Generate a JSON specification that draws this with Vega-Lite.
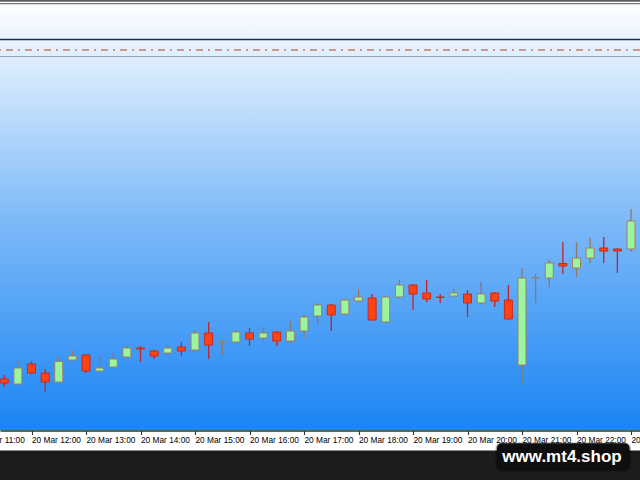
{
  "$schema": "https://vega.github.io/schema/vega-lite/v6.json",
  "width": 640,
  "height": 480,
  "padding": 0,
  "autosize": {"type": "none"},
  "background": "#ffffff",
  "config": {"view": {"stroke": null}},
  "datasets": {
    "one": [{}],
    "candles": [
      {"t": "2024-03-20T11:30:00Z", "open": 101, "high": 105, "low": 93, "close": 97},
      {"t": "2024-03-20T11:45:00Z", "open": 96, "high": 120, "low": 96, "close": 112},
      {"t": "2024-03-20T12:00:00Z", "open": 116, "high": 118.5, "low": 106, "close": 107},
      {"t": "2024-03-20T12:15:00Z", "open": 107, "high": 111, "low": 88.5, "close": 98},
      {"t": "2024-03-20T12:30:00Z", "open": 98, "high": 123, "low": 98, "close": 118.5},
      {"t": "2024-03-20T12:45:00Z", "open": 120, "high": 130, "low": 120, "close": 124},
      {"t": "2024-03-20T13:00:00Z", "open": 125, "high": 126, "low": 107, "close": 109},
      {"t": "2024-03-20T13:15:00Z", "open": 109, "high": 125, "low": 108.5, "close": 112},
      {"t": "2024-03-20T13:30:00Z", "open": 113, "high": 128, "low": 113, "close": 121},
      {"t": "2024-03-20T13:45:00Z", "open": 123, "high": 134, "low": 122, "close": 132},
      {"t": "2024-03-20T14:00:00Z", "open": 132, "high": 134, "low": 118, "close": 131},
      {"t": "2024-03-20T14:15:00Z", "open": 129, "high": 130, "low": 121, "close": 124},
      {"t": "2024-03-20T14:30:00Z", "open": 127, "high": 135, "low": 124, "close": 132},
      {"t": "2024-03-20T14:45:00Z", "open": 133, "high": 138, "low": 124, "close": 129},
      {"t": "2024-03-20T15:00:00Z", "open": 130, "high": 150, "low": 129, "close": 147},
      {"t": "2024-03-20T15:15:00Z", "open": 147, "high": 158, "low": 121, "close": 135},
      {"t": "2024-03-20T15:30:00Z", "open": 137.5, "high": 140, "low": 125, "close": 138},
      {"t": "2024-03-20T15:45:00Z", "open": 138, "high": 150, "low": 137.5, "close": 148},
      {"t": "2024-03-20T16:00:00Z", "open": 147, "high": 152, "low": 134, "close": 141},
      {"t": "2024-03-20T16:15:00Z", "open": 142, "high": 153, "low": 139, "close": 147},
      {"t": "2024-03-20T16:30:00Z", "open": 148, "high": 149, "low": 134, "close": 139},
      {"t": "2024-03-20T16:45:00Z", "open": 139, "high": 159, "low": 137, "close": 149},
      {"t": "2024-03-20T17:00:00Z", "open": 149, "high": 165, "low": 142, "close": 163},
      {"t": "2024-03-20T17:15:00Z", "open": 164, "high": 177, "low": 155, "close": 175},
      {"t": "2024-03-20T17:30:00Z", "open": 175, "high": 176, "low": 149, "close": 165},
      {"t": "2024-03-20T17:45:00Z", "open": 166, "high": 181, "low": 165, "close": 180},
      {"t": "2024-03-20T18:00:00Z", "open": 179, "high": 191, "low": 178, "close": 183},
      {"t": "2024-03-20T18:15:00Z", "open": 182, "high": 186, "low": 159.5, "close": 160},
      {"t": "2024-03-20T18:30:00Z", "open": 158, "high": 184, "low": 157, "close": 183},
      {"t": "2024-03-20T18:45:00Z", "open": 183, "high": 200, "low": 182, "close": 195},
      {"t": "2024-03-20T19:00:00Z", "open": 195, "high": 196, "low": 170, "close": 186},
      {"t": "2024-03-20T19:15:00Z", "open": 187, "high": 200, "low": 178, "close": 181},
      {"t": "2024-03-20T19:30:00Z", "open": 183, "high": 186, "low": 177, "close": 182.5},
      {"t": "2024-03-20T19:45:00Z", "open": 184, "high": 191, "low": 183.5, "close": 187},
      {"t": "2024-03-20T20:00:00Z", "open": 186, "high": 190, "low": 163, "close": 177},
      {"t": "2024-03-20T20:15:00Z", "open": 177, "high": 198, "low": 176, "close": 186},
      {"t": "2024-03-20T20:30:00Z", "open": 187, "high": 188, "low": 173, "close": 179},
      {"t": "2024-03-20T20:45:00Z", "open": 180, "high": 195, "low": 160.5, "close": 161},
      {"t": "2024-03-20T21:00:00Z", "open": 115, "high": 212, "low": 95, "close": 202},
      {"t": "2024-03-20T21:15:00Z", "open": 202, "high": 206, "low": 177, "close": 202.5},
      {"t": "2024-03-20T21:30:00Z", "open": 202, "high": 220, "low": 193, "close": 217},
      {"t": "2024-03-20T21:45:00Z", "open": 216.5, "high": 238, "low": 206, "close": 214},
      {"t": "2024-03-20T22:00:00Z", "open": 212, "high": 238, "low": 203, "close": 222},
      {"t": "2024-03-20T22:15:00Z", "open": 222, "high": 242, "low": 217, "close": 232},
      {"t": "2024-03-20T22:30:00Z", "open": 232, "high": 243, "low": 217, "close": 229},
      {"t": "2024-03-20T22:45:00Z", "open": 231, "high": 231.5, "low": 207, "close": 229},
      {"t": "2024-03-20T23:00:00Z", "open": 231, "high": 271, "low": 228, "close": 259}
    ]
  },
  "layer": [
    {
      "data": {"name": "one"},
      "mark": {"type": "rect", "fill": {"gradient": "linear", "x1": 0, "y1": 0, "x2": 0, "y2": 1, "stops": [
        {"offset": 0, "color": "#ffffff"},
        {"offset": 0.09, "color": "#eaf4fe"},
        {"offset": 0.5, "color": "#80bbf8"},
        {"offset": 1, "color": "#1a85f4"}
      ]}},
      "encoding": {
        "y": {"datum": 49.5, "type": "quantitative", "scale": {"domain": [0, 480], "nice": false, "zero": false}, "axis": null},
        "y2": {"datum": 480}
      }
    },
    {
      "data": {"name": "one"},
      "mark": {"type": "rule", "color": "#5e5e5e", "strokeWidth": 2},
      "encoding": {"y": {"datum": 479.2, "type": "quantitative", "scale": {"domain": [0, 480], "nice": false, "zero": false}, "axis": null}}
    },
    {
      "data": {"name": "one"},
      "mark": {"type": "rule", "color": "#7a7a7a", "strokeWidth": 1.3},
      "encoding": {"y": {"datum": 476.3, "type": "quantitative", "scale": {"domain": [0, 480], "nice": false, "zero": false}, "axis": null}}
    },
    {
      "data": {"name": "one"},
      "mark": {"type": "rule", "color": "#1e2c4e", "strokeWidth": 1.7},
      "encoding": {"y": {"datum": 440.5, "type": "quantitative", "scale": {"domain": [0, 480], "nice": false, "zero": false}, "axis": null}}
    },
    {
      "data": {"name": "one"},
      "mark": {"type": "rule", "color": "#c07e6a", "strokeWidth": 1.3, "strokeDash": [7, 5, 2, 5]},
      "encoding": {"y": {"datum": 430, "type": "quantitative", "scale": {"domain": [0, 480], "nice": false, "zero": false}, "axis": null}}
    },
    {
      "data": {"name": "one"},
      "mark": {"type": "rule", "color": "#96a4b6", "strokeWidth": 1.1},
      "encoding": {"y": {"datum": 423.5, "type": "quantitative", "scale": {"domain": [0, 480], "nice": false, "zero": false}, "axis": null}}
    },
    {
      "data": {"name": "one"},
      "mark": {"type": "rect", "fill": "#ffffff"},
      "encoding": {
        "y": {"datum": 29.5, "type": "quantitative", "scale": {"domain": [0, 480], "nice": false, "zero": false}, "axis": null},
        "y2": {"datum": 49.5}
      }
    },
    {
      "data": {"name": "one"},
      "mark": {"type": "rect", "fill": "#1c1c1c"},
      "encoding": {
        "y": {"datum": 0, "type": "quantitative", "scale": {"domain": [0, 480], "nice": false, "zero": false}, "axis": null},
        "y2": {"datum": 29.5}
      }
    },
    {
      "data": {"name": "candles"},
      "mark": {"type": "rule", "strokeWidth": 1.3},
      "encoding": {
        "x": {
          "field": "t", "type": "temporal",
          "scale": {"type": "utc", "nice": false, "padding": 0, "domain": [
            {"year": 2024, "month": 3, "date": 20, "hours": 11, "minutes": 25, "seconds": 19, "utc": true},
            {"year": 2024, "month": 3, "date": 20, "hours": 23, "minutes": 9, "seconds": 54, "utc": true}
          ]},
          "axis": {
            "orient": "bottom", "offset": -49.5, "zindex": 2,
            "values": [
              {"year": 2024, "month": 3, "date": 20, "hours": 12, "utc": true},
              {"year": 2024, "month": 3, "date": 20, "hours": 13, "utc": true},
              {"year": 2024, "month": 3, "date": 20, "hours": 14, "utc": true},
              {"year": 2024, "month": 3, "date": 20, "hours": 15, "utc": true},
              {"year": 2024, "month": 3, "date": 20, "hours": 16, "utc": true},
              {"year": 2024, "month": 3, "date": 20, "hours": 17, "utc": true},
              {"year": 2024, "month": 3, "date": 20, "hours": 18, "utc": true},
              {"year": 2024, "month": 3, "date": 20, "hours": 19, "utc": true},
              {"year": 2024, "month": 3, "date": 20, "hours": 20, "utc": true},
              {"year": 2024, "month": 3, "date": 20, "hours": 21, "utc": true},
              {"year": 2024, "month": 3, "date": 20, "hours": 22, "utc": true},
              {"year": 2024, "month": 3, "date": 20, "hours": 23, "utc": true}
            ],
            "labelExpr": "utcFormat(datum.value, '%d %b %H:%M')",
            "title": null, "grid": false,
            "domain": true, "domainColor": "#333333", "domainWidth": 1.3,
            "ticks": true, "tickColor": "#333333", "tickSize": 4, "tickWidth": 1.1,
            "labelAlign": "left", "labelBaseline": "middle", "labelPadding": 6, "labelDx": -0.5,
            "labelFont": "Liberation Sans", "labelFontSize": 8.3, "labelColor": "#000000",
            "labelOverlap": false, "labelBound": false, "labelFlush": false
          }
        },
        "y": {"field": "low", "type": "quantitative", "scale": {"domain": [0, 480], "nice": false, "zero": false}, "axis": null},
        "y2": {"field": "high"},
        "color": {"condition": {"test": "datum.close >= datum.open", "value": "#8e7868"}, "value": "#c0242c"}
      }
    },
    {
      "data": {"name": "candles"},
      "mark": {"type": "bar", "size": 8, "strokeWidth": 1},
      "encoding": {
        "x": {"field": "t", "type": "temporal"},
        "y": {"field": "open", "type": "quantitative", "scale": {"domain": [0, 480], "nice": false, "zero": false}, "axis": null},
        "y2": {"field": "close"},
        "fill": {"condition": {"test": "datum.close >= datum.open", "value": "#9cf59c"}, "value": "#ff4414"},
        "stroke": {"condition": {"test": "datum.close >= datum.open", "value": "#9a8068"}, "value": "#c8281c"}
      }
    },
    {
      "data": {"name": "one"},
      "mark": {"type": "text", "text": "20 Mar 11:00", "font": "Liberation Sans", "fontSize": 8.3, "color": "#000000", "align": "left", "baseline": "middle", "dx": -0.5},
      "encoding": {
        "x": {"datum": {"year": 2024, "month": 3, "date": 20, "hours": 11, "utc": true}, "type": "temporal"},
        "y": {"datum": 39.5, "type": "quantitative", "scale": {"domain": [0, 480], "nice": false, "zero": false}, "axis": null}
      }
    },
    {
      "data": {"name": "one"},
      "mark": {"type": "rect", "fill": "#000000", "cornerRadius": 6, "opacity": 0.35},
      "encoding": {
        "x": {"datum": {"year": 2024, "month": 3, "date": 20, "hours": 20, "minutes": 31, "seconds": 0, "utc": true}, "type": "temporal"},
        "x2": {"datum": {"year": 2024, "month": 3, "date": 20, "hours": 22, "minutes": 59, "seconds": 50, "utc": true}},
        "y": {"datum": 8.5, "type": "quantitative", "scale": {"domain": [0, 480], "nice": false, "zero": false}, "axis": null},
        "y2": {"datum": 37.5}
      }
    },
    {
      "data": {"name": "one"},
      "mark": {"type": "rect", "fill": "#0e0e0e", "cornerRadius": 5},
      "encoding": {
        "x": {"datum": {"year": 2024, "month": 3, "date": 20, "hours": 20, "minutes": 32, "seconds": 28, "utc": true}, "type": "temporal"},
        "x2": {"datum": {"year": 2024, "month": 3, "date": 20, "hours": 22, "minutes": 58, "seconds": 20, "utc": true}},
        "y": {"datum": 10, "type": "quantitative", "scale": {"domain": [0, 480], "nice": false, "zero": false}, "axis": null},
        "y2": {"datum": 36.7}
      }
    },
    {
      "data": {"name": "one"},
      "mark": {"type": "text", "text": "www.mt4.shop", "font": "Liberation Sans", "fontWeight": "bold", "fontSize": 17, "color": "#ffffff", "align": "center", "baseline": "middle"},
      "encoding": {
        "x": {"datum": {"year": 2024, "month": 3, "date": 20, "hours": 21, "minutes": 44, "seconds": 2, "utc": true}, "type": "temporal"},
        "y": {"datum": 23, "type": "quantitative", "scale": {"domain": [0, 480], "nice": false, "zero": false}, "axis": null}
      }
    }
  ]
}
